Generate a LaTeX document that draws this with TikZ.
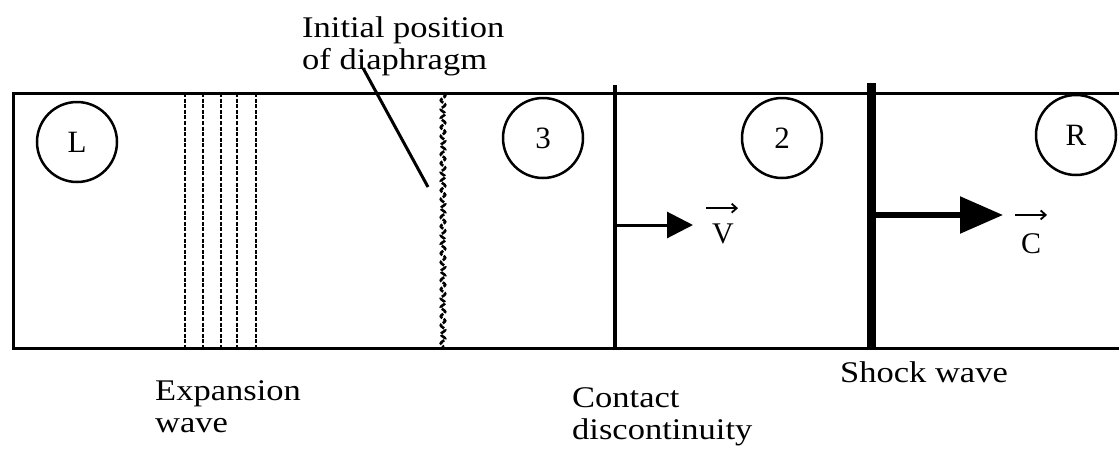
\documentclass[tikz,border=0pt]{standalone}
\usepackage{fontspec}
\setmainfont{Liberation Serif}
\usepackage{graphicx}
\usetikzlibrary{arrows.meta,decorations.pathmorphing}
\newcommand{\stretchlbl}[1]{\scalebox{1.15}[1]{\begin{tabular}[t]{@{}l@{}}#1\end{tabular}}}
\begin{document}
\begin{tikzpicture}[x=1pt,y=-1pt,
  tube/.style={line width=3pt},
  expwave/.style={line width=2.6pt, dash pattern=on 4pt off 1.6pt},
  diaph/.style={line width=2.6pt, dash pattern=on 6pt off 1.5pt,
    decorate, decoration={snake, segment length=9pt, amplitude=2.2pt}},
  region/.style={circle, draw, line width=2.5pt, minimum size=80pt, inner sep=0pt,
    font=\fontsize{31}{32}\selectfont},
  lbl/.style={anchor=base west, inner sep=0pt, font=\fontsize{30}{32}\selectfont},
  veclbl/.style={anchor=base, inner sep=0pt, font=\fontsize{30}{32}\selectfont},
  overarrow/.style={line width=1.8pt, -{Straight Barb[length=5pt,width=9pt]}},
  contact/.style={line width=3.5pt},
  shock/.style={line width=9pt},
  vel/.style={line width=3pt, -{Triangle[length=26pt,width=26pt]}},
  shockvel/.style={line width=5.5pt, -{Triangle[length=43pt,width=36pt]}},
  leader/.style={line width=3pt}
]
\useasboundingbox (0,0) rectangle (1119,448);

% tube walls
\coordinate (tl) at (13,93);
\coordinate (bl) at (13,348);
\coordinate (tr) at (1119,93);
\coordinate (br) at (1119,348);
\draw[tube] (tr) -- (tl) -- (bl) -- (br);

% expansion wave
\foreach \x [count=\i] in {185,203,221,237,256} {
  \coordinate (ew\i t) at (\x,93);
  \coordinate (ew\i b) at (\x,348);
  \draw[expwave] (ew\i t) -- (ew\i b);
}

% diaphragm
\coordinate (dt) at (443,93);
\coordinate (db) at (443,348);
\draw[diaph] (dt) -- (db);

% contact discontinuity
\coordinate (cdt) at (615,85);
\coordinate (cdb) at (615,348);
\draw[contact] (cdt) -- (cdb);
\coordinate (vs) at (615,225);
\coordinate (ve) at (693,225);
\draw[vel] (vs) -- (ve);
\node[veclbl] (vlab) at (723,243) {V};
\draw[overarrow] ([xshift=-17pt,yshift=15pt]vlab.north) -- ([xshift=15pt,yshift=15pt]vlab.north);

% shock wave
\coordinate (swt) at (871,83);
\coordinate (swb) at (871,348);
\draw[shock] (swt) -- (swb);
\coordinate (cs) at (871,215);
\coordinate (ce) at (1003,215);
\draw[shockvel] (cs) -- (ce);
\node[veclbl] (clab) at (1031,253) {C};
\draw[overarrow] ([xshift=-16pt,yshift=18pt]clab.north) -- ([xshift=16pt,yshift=18pt]clab.north);

% regions
\node[region] (rL) at (77,142) {L};
\node[region] (r3) at (543,138) {3};
\node[region] (r2) at (782,138) {2};
\node[region] (rR) at (1076,135) {R};

% labels
\node[lbl] (initlbl) at (302,37) {\stretchlbl{Initial position\\of diaphragm}};
\coordinate (ls) at (363,68);
\coordinate (le) at (428,187);
\draw[leader] (ls) -- (le);

\node[lbl] (explbl) at (155,400) {\stretchlbl{Expansion\\wave}};
\node[lbl] (cdlbl) at (572,407) {\stretchlbl{Contact\\discontinuity}};
\node[lbl] (swlbl) at (840,382) {\stretchlbl{Shock wave}};
\end{tikzpicture}
\end{document}
